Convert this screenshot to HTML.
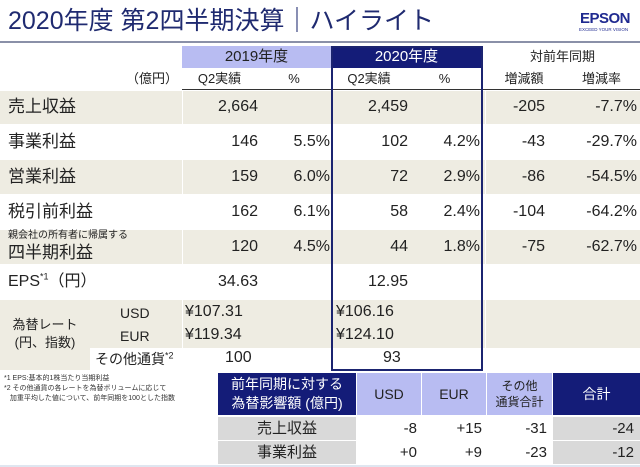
<!DOCTYPE html>
<html><head><meta charset="utf-8"><style>
body{margin:0;width:640px;height:467px;background:#fff;position:relative;overflow:hidden;font-family:"Liberation Sans","Noto Sans CJK JP",sans-serif;color:#222}
div{position:absolute;box-sizing:border-box}
.t{white-space:nowrap;font-size:15px;line-height:20px}
.r{text-align:right}
.c{text-align:center}
.bg{background:#eeece2}
</style></head><body>
<div class="t" style="left:8px;top:6px;font-size:25px;line-height:30px;color:#1f2a70">2020年度 第2四半期決算｜ハイライト</div>
<div style="left:580px;top:10px;font-size:15px;font-weight:bold;color:#1f2a90;letter-spacing:-0.5px">EPSON</div>
<div style="left:579px;top:27px;font-size:4.5px;color:#1f2a90;white-space:nowrap">EXCEED YOUR VISION</div>
<div style="left:0;top:41px;width:640px;height:2px;background:#8a90a8"></div>

<!-- header -->
<div class="t c" style="left:182px;top:46px;width:149px;height:22px;background:#b8bcf2;line-height:22px;color:#222">2019年度</div>
<div class="t c" style="left:331px;top:46px;width:151px;height:22px;background:#141c78;line-height:22px;color:#fff">2020年度</div>
<div class="t c" style="left:485px;top:46px;width:155px;line-height:22px;font-size:13px">対前年同期</div>
<div class="t r" style="left:100px;top:68px;width:78px;line-height:21px;font-size:13px">（億円）</div>
<div class="t c" style="left:182px;top:68px;width:75px;line-height:21px;font-size:13px">Q2実績</div>
<div class="t c" style="left:257px;top:68px;width:74px;line-height:21px;font-size:13px">%</div>
<div class="t c" style="left:331px;top:68px;width:76px;line-height:21px;font-size:13px">Q2実績</div>
<div class="t c" style="left:407px;top:68px;width:75px;line-height:21px;font-size:13px">%</div>
<div class="t c" style="left:485px;top:68px;width:78px;line-height:21px;font-size:13px">増減額</div>
<div class="t c" style="left:563px;top:68px;width:77px;line-height:21px;font-size:13px">増減率</div>
<div style="left:182px;top:89px;width:458px;height:1px;background:#333"></div>

<!-- beige bands -->
<div class="bg" style="left:0;top:91px;width:640px;height:33px"></div>
<div class="bg" style="left:0;top:160px;width:640px;height:34px"></div>
<div class="bg" style="left:0;top:230px;width:640px;height:34px"></div>
<div class="bg" style="left:0;top:300px;width:640px;height:48px"></div>
<div class="bg" style="left:0;top:300px;width:90px;height:70px"></div>
<div style="left:182px;top:91px;width:1px;height:260px;background:#fff"></div>
<div style="left:485px;top:91px;width:1px;height:260px;background:#fff"></div>

<!-- rows -->
<div class="t" style="left:8px;top:97px;font-size:17px">売上収益</div>
<div class="t r" style="left:150px;top:97px;width:108px;font-size:16px">2,664</div>
<div class="t r" style="left:300px;top:97px;width:108px;font-size:16px">2,459</div>
<div class="t r" style="left:480px;top:97px;width:65px;font-size:16px">-205</div>
<div class="t r" style="left:560px;top:97px;width:77px;font-size:16px">-7.7%</div>

<div class="t" style="left:8px;top:132px;font-size:17px">事業利益</div>
<div class="t r" style="left:150px;top:132px;width:108px;font-size:16px">146</div>
<div class="t r" style="left:260px;top:132px;width:70px;font-size:16px">5.5%</div>
<div class="t r" style="left:300px;top:132px;width:108px;font-size:16px">102</div>
<div class="t r" style="left:410px;top:132px;width:70px;font-size:16px">4.2%</div>
<div class="t r" style="left:480px;top:132px;width:65px;font-size:16px">-43</div>
<div class="t r" style="left:560px;top:132px;width:77px;font-size:16px">-29.7%</div>

<div class="t" style="left:8px;top:167px;font-size:17px">営業利益</div>
<div class="t r" style="left:150px;top:167px;width:108px;font-size:16px">159</div>
<div class="t r" style="left:260px;top:167px;width:70px;font-size:16px">6.0%</div>
<div class="t r" style="left:300px;top:167px;width:108px;font-size:16px">72</div>
<div class="t r" style="left:410px;top:167px;width:70px;font-size:16px">2.9%</div>
<div class="t r" style="left:480px;top:167px;width:65px;font-size:16px">-86</div>
<div class="t r" style="left:560px;top:167px;width:77px;font-size:16px">-54.5%</div>

<div class="t" style="left:8px;top:202px;font-size:17px">税引前利益</div>
<div class="t r" style="left:150px;top:202px;width:108px;font-size:16px">162</div>
<div class="t r" style="left:260px;top:202px;width:70px;font-size:16px">6.1%</div>
<div class="t r" style="left:300px;top:202px;width:108px;font-size:16px">58</div>
<div class="t r" style="left:410px;top:202px;width:70px;font-size:16px">2.4%</div>
<div class="t r" style="left:480px;top:202px;width:65px;font-size:16px">-104</div>
<div class="t r" style="left:560px;top:202px;width:77px;font-size:16px">-64.2%</div>

<div class="t" style="left:8px;top:229px;font-size:10px;line-height:14px">親会社の所有者に帰属する</div>
<div class="t" style="left:8px;top:243px;font-size:17px">四半期利益</div>
<div class="t r" style="left:150px;top:237px;width:108px;font-size:16px">120</div>
<div class="t r" style="left:260px;top:237px;width:70px;font-size:16px">4.5%</div>
<div class="t r" style="left:300px;top:237px;width:108px;font-size:16px">44</div>
<div class="t r" style="left:410px;top:237px;width:70px;font-size:16px">1.8%</div>
<div class="t r" style="left:480px;top:237px;width:65px;font-size:16px">-75</div>
<div class="t r" style="left:560px;top:237px;width:77px;font-size:16px">-62.7%</div>

<div class="t" style="left:8px;top:272px;font-size:16px">EPS<sup style="font-size:9px;line-height:0">*1</sup>（円）</div>
<div class="t r" style="left:150px;top:272px;width:108px;font-size:16px">34.63</div>
<div class="t r" style="left:300px;top:272px;width:108px;font-size:16px">12.95</div>

<div class="t c" style="left:0;top:316px;width:90px;font-size:13px;line-height:18px">為替レート<br>(円、指数)</div>
<div class="t" style="left:120px;top:303px;font-size:14px">USD</div>
<div class="t" style="left:120px;top:326px;font-size:14px">EUR</div>
<div class="t" style="left:185px;top:302px;font-size:16px">¥107.31</div>
<div class="t" style="left:185px;top:325px;font-size:16px">¥119.34</div>
<div class="t" style="left:336px;top:302px;font-size:16px">¥106.16</div>
<div class="t" style="left:336px;top:325px;font-size:16px">¥124.10</div>
<div class="t" style="left:95px;top:349px;font-size:14px">その他通貨<sup style="font-size:9px;line-height:0">*2</sup></div>
<div class="t" style="left:225px;top:348px;font-size:16px">100</div>
<div class="t" style="left:383px;top:348px;font-size:16px">93</div>

<!-- 2020 box -->
<div style="left:331px;top:46px;width:152px;height:325px;border:2px solid #1b2470"></div>

<div class="t" style="left:4px;top:374px;font-size:7px;line-height:10px;color:#333">*1 EPS:基本的1株当たり当期利益<br>*2 その他通貨の各レートを為替ボリュームに応じて<br>&nbsp;&nbsp;&nbsp;加重平均した値について、前年同期を100とした指数</div>

<!-- bottom table -->
<div class="t c" style="left:218px;top:373px;width:138px;height:42px;background:#141c78;color:#fff;font-size:14px;line-height:19px;padding-top:2px">前年同期に対する<br>為替影響額 (億円)</div>
<div class="t c" style="left:357px;top:373px;width:64px;height:42px;background:#b8bcf2;font-size:14px;line-height:42px">USD</div>
<div class="t c" style="left:422px;top:373px;width:64px;height:42px;background:#b8bcf2;font-size:14px;line-height:42px">EUR</div>
<div class="t c" style="left:487px;top:373px;width:65px;height:42px;background:#b8bcf2;font-size:12px;line-height:16px;padding-top:5px">その他<br>通貨合計</div>
<div class="t c" style="left:553px;top:373px;width:87px;height:42px;background:#141c78;color:#fff;font-size:14px;line-height:42px">合計</div>

<div class="t c" style="left:218px;top:417px;width:138px;height:23px;background:#d9d9d9;font-size:15px;line-height:23px">売上収益</div>
<div class="t c" style="left:218px;top:441px;width:138px;height:23px;background:#d9d9d9;font-size:15px;line-height:23px">事業利益</div>
<div class="t r" style="left:553px;top:417px;width:87px;height:23px;background:#d9d9d9;font-size:15px;line-height:23px;padding-right:6px">-24</div>
<div class="t r" style="left:553px;top:441px;width:87px;height:23px;background:#d9d9d9;font-size:15px;line-height:23px;padding-right:6px">-12</div>
<div class="t r" style="left:357px;top:417px;width:60px;font-size:15px;line-height:23px">-8</div>
<div class="t r" style="left:422px;top:417px;width:60px;font-size:15px;line-height:23px">+15</div>
<div class="t r" style="left:487px;top:417px;width:60px;font-size:15px;line-height:23px">-31</div>
<div class="t r" style="left:357px;top:441px;width:60px;font-size:15px;line-height:23px">+0</div>
<div class="t r" style="left:422px;top:441px;width:60px;font-size:15px;line-height:23px">+9</div>
<div class="t r" style="left:487px;top:441px;width:60px;font-size:15px;line-height:23px">-23</div>
<div style="left:0;top:465px;width:640px;height:2px;background:#dfe6f0"></div>
</body></html>
